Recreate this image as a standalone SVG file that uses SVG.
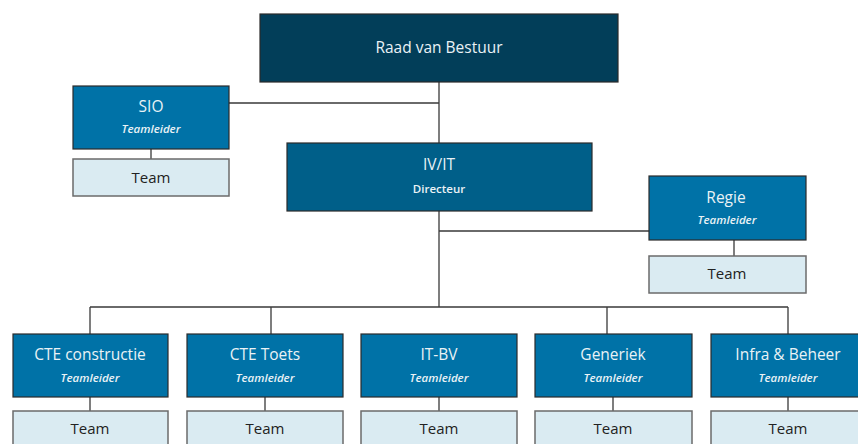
<svg xmlns="http://www.w3.org/2000/svg" width="858" height="444" viewBox="0 0 858 444">
<style>
.box{stroke:#2b2b2b;stroke-width:1.2}
.top{fill:#023e59}
.dir{fill:#005f89}
.tl{fill:#0072a7}
.team{fill:#daebf2;stroke:#6b6b6b;stroke-width:1.5}
.t{font-family:"Open Sans","Liberation Sans",sans-serif;text-anchor:middle;fill:#eaf2f6}
.main{font-size:15.5px}
.sub{font-size:11.5px;font-style:italic;font-weight:600}
.tt{font-family:"Open Sans","Liberation Sans",sans-serif;text-anchor:middle;fill:#222;font-size:15px}
.c{stroke:#3a3a3a;stroke-width:1.3;fill:none}
</style>
<rect width="858" height="444" fill="#fff"/>
<g id="connectors">
<path class="c" d="M439 82V143M229 103H439M151 149V159M439 211V307M439 231H649M734 240V256M90 307H788M90 307V334M271 307V334M607 307V334M788 307V334M90 397V411M265 397V411M439 397V411M613 397V411M788 397V411"/>
</g>
<g id="raad"><rect class="box top" x="260" y="14" width="358" height="68"/><text class="t main" x="439" y="53">Raad van Bestuur</text></g>
<g id="sio"><rect class="box tl" x="73" y="86" width="156" height="63"/><text class="t main" x="151" y="112">SIO</text><text class="t sub" x="151" y="133">Teamleider</text></g>
<g id="sio-team"><rect class="team" x="73" y="159" width="156" height="37"/><text class="tt" x="151" y="183">Team</text></g>
<g id="ivit"><rect class="box dir" x="287" y="143" width="305" height="68"/><text class="t main" x="439" y="170">IV/IT</text><text class="t" x="439" y="193" style="font-size:11.5px;font-weight:600">Directeur</text></g>
<g id="regie"><rect class="box tl" x="649" y="176" width="157" height="64"/><text class="t main" x="726" y="203">Regie</text><text class="t sub" x="727" y="224">Teamleider</text></g>
<g id="regie-team"><rect class="team" x="649" y="256" width="157" height="37"/><text class="tt" x="727" y="279">Team</text></g>
<g id="cte-constructie"><rect class="box tl" x="13" y="334" width="155" height="63"/><text class="t main" x="90" y="360">CTE constructie</text><text class="t sub" x="90" y="382">Teamleider</text></g>
<g id="cte-constructie-team"><rect class="team" x="13" y="411" width="155" height="40"/><text class="tt" x="90" y="434">Team</text></g>
<g id="cte-toets"><rect class="box tl" x="187" y="334" width="156" height="63"/><text class="t main" x="265" y="360">CTE Toets</text><text class="t sub" x="265" y="382">Teamleider</text></g>
<g id="cte-toets-team"><rect class="team" x="187" y="411" width="156" height="40"/><text class="tt" x="265" y="434">Team</text></g>
<g id="it-bv"><rect class="box tl" x="361" y="334" width="156" height="63"/><text class="t main" x="439" y="360">IT-BV</text><text class="t sub" x="439" y="382">Teamleider</text></g>
<g id="it-bv-team"><rect class="team" x="361" y="411" width="156" height="40"/><text class="tt" x="439" y="434">Team</text></g>
<g id="generiek"><rect class="box tl" x="535" y="334" width="157" height="63"/><text class="t main" x="613" y="360">Generiek</text><text class="t sub" x="613" y="382">Teamleider</text></g>
<g id="generiek-team"><rect class="team" x="535" y="411" width="157" height="40"/><text class="tt" x="613" y="434">Team</text></g>
<g id="infra"><rect class="box tl" x="711" y="334" width="156" height="63"/><text class="t main" x="788" y="360">Infra &amp; Beheer</text><text class="t sub" x="788" y="382">Teamleider</text></g>
<g id="infra-team"><rect class="team" x="711" y="411" width="156" height="40"/><text class="tt" x="788" y="434">Team</text></g>
</svg>
